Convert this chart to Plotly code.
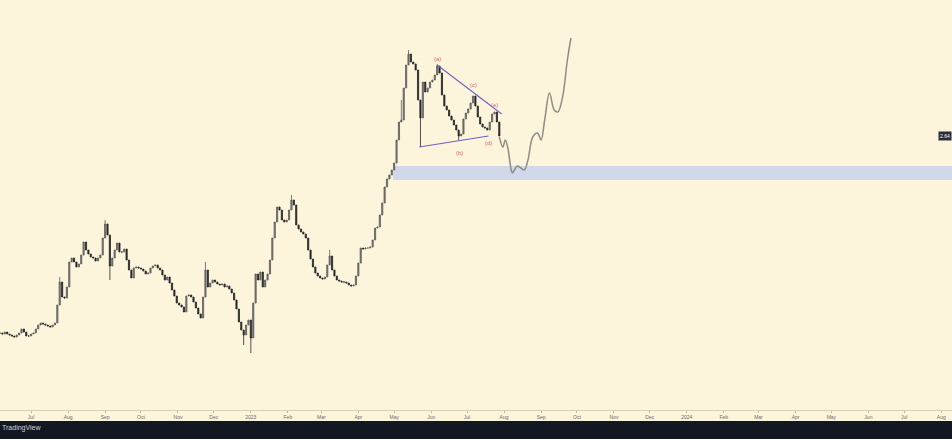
import datetime as dt
import plotly.graph_objects as go

# ---------------- data ----------------
start_date = dt.date(2022, 6, 5)
step_days = 2

closes = [
    0.67,0.66,0.68,0.66,0.65,0.64,0.63,0.65,0.67,0.71,
    0.68,0.64,0.64,0.66,0.67,0.71,0.75,0.77,0.76,0.75,
    0.74,0.73,0.75,0.77,0.95,1.18,1.03,1.02,1.13,1.38,
    1.42,1.38,1.33,1.36,1.45,1.58,1.50,1.46,1.43,1.42,
    1.39,1.42,1.45,1.62,1.76,1.65,1.34,1.42,1.50,1.57,
    1.48,1.48,1.51,1.40,1.30,1.22,1.32,1.33,1.32,1.31,
    1.29,1.26,1.27,1.32,1.34,1.35,1.32,1.30,1.25,1.20,
    1.23,1.17,1.10,1.04,0.97,0.95,0.93,0.88,1.04,1.05,
    1.03,0.98,0.92,0.86,0.82,1.03,1.30,1.13,1.17,1.20,
    1.18,1.16,1.15,1.16,1.13,1.14,1.11,1.07,1.00,0.91,
    0.78,0.70,0.65,0.75,0.80,0.62,0.97,1.26,1.20,1.28,
    1.13,1.20,1.26,1.40,1.62,1.78,1.93,1.90,1.80,1.78,
    1.80,1.90,2.00,1.95,1.75,1.71,1.68,1.66,1.62,1.50,
    1.41,1.33,1.27,1.24,1.22,1.21,1.23,1.35,1.44,1.30,
    1.24,1.20,1.19,1.18,1.18,1.17,1.15,1.14,1.15,1.24,
    1.37,1.52,1.51,1.52,1.52,1.53,1.60,1.72,1.73,1.85,
    1.97,2.13,2.21,2.25,2.30,2.37,2.60,2.78,2.80,3.12,
    3.35,3.46,3.38,3.36,3.30,3.00,2.82,3.18,3.08,3.12,
    3.18,3.20,3.25,3.34,3.27,3.05,2.94,2.90,2.84,2.80,
    2.75,2.70,2.64,2.66,2.81,2.87,2.91,2.97,3.04,2.94,
    2.83,2.76,2.73,2.72,2.70,2.78,2.86,2.88,2.78,2.64,
]

# notable wicks (candle index, price)
wick_highs = [(25, 1.23), (44, 1.80), (86, 1.38), (122, 2.05), (138, 1.50),
              (168, 3.00), (171, 3.50), (183, 3.36)]
wick_lows = [(46, 1.20), (102, 0.55), (105, 0.47), (176, 2.53), (192, 2.60)]

# projected path (grey curve)
proj_dates = ["2023-07-28", "2023-07-31", "2023-08-02", "2023-08-04", "2023-08-07",
              "2023-08-08", "2023-08-12", "2023-08-15", "2023-08-18", "2023-08-21",
              "2023-08-25", "2023-08-29", "2023-09-01", "2023-09-04", "2023-09-08",
              "2023-09-12", "2023-09-15", "2023-09-19", "2023-09-23", "2023-09-26"]
proj_prices = [2.63, 2.53, 2.60, 2.53, 2.30, 2.27, 2.34, 2.32, 2.30, 2.40,
               2.63, 2.67, 2.60, 2.80, 3.07, 2.90, 2.88, 3.03, 3.40, 3.62]

# triangle trendlines
upper_line_dates = ["2023-06-06", "2023-07-30"]
upper_line_prices = [3.35, 2.86]
lower_line_dates = ["2023-05-22", "2023-07-19"]
lower_line_prices = [2.53, 2.64]

# wave labels
wave_labels = ["(a)", "(b)", "(c)", "(d)", "(e)"]
wave_dates = ["2023-06-06", "2023-06-25", "2023-07-06", "2023-07-19", "2023-07-24"]
wave_prices = [3.41, 2.47, 3.15, 2.57, 2.95]

# support zone
zone_start = "2023-04-30"
zone_end = "2024-08-20"
zone_low = 2.20
zone_high = 2.34

last_price_label = "2.64"

tick_dates = ["2022-07-01", "2022-08-01", "2022-09-01", "2022-10-01", "2022-11-01",
              "2022-12-01", "2023-01-01", "2023-02-01", "2023-03-01", "2023-04-01",
              "2023-05-01", "2023-06-01", "2023-07-01", "2023-08-01", "2023-09-01",
              "2023-10-01", "2023-11-01", "2023-12-01", "2024-01-01", "2024-02-01",
              "2024-03-01", "2024-04-01", "2024-05-01", "2024-06-01", "2024-07-01",
              "2024-08-01"]
tick_labels = ["Jul", "Aug", "Sep", "Oct", "Nov", "Dec", "2023", "Feb", "Mar", "Apr",
               "May", "Jun", "Jul", "Aug", "Sep", "Oct", "Nov", "Dec", "2024", "Feb",
               "Mar", "Apr", "May", "Jun", "Jul", "Aug"]

# ---------------- build OHLC ----------------
dates = [start_date + dt.timedelta(days=step_days * i) for i in range(len(closes))]
opens = [closes[0]] + closes[:-1]
highs = [max(o, c) for o, c in zip(opens, closes)]
lows = [min(o, c) for o, c in zip(opens, closes)]
for i, v in wick_highs:
    highs[i] = max(highs[i], v)
for i, v in wick_lows:
    lows[i] = min(lows[i], v)

BG = "#fcf5dc"

fig = go.Figure()

fig.add_shape(type="rect", xref="x", yref="y", x0=zone_start, x1=zone_end,
              y0=zone_low, y1=zone_high, fillcolor="#d0d8ea", line=dict(width=0),
              layer="below")

fig.add_trace(go.Candlestick(
    x=dates, open=opens, high=highs, low=lows, close=closes,
    increasing=dict(line=dict(color="#5c5c5c", width=0.8), fillcolor="#7a7a7a"),
    decreasing=dict(line=dict(color="#262626", width=0.8), fillcolor="#262626"),
    whiskerwidth=0, hoverinfo="skip", showlegend=False,
))

fig.add_trace(go.Scatter(
    x=proj_dates, y=proj_prices, mode="lines",
    line=dict(color="#8e8c84", width=1.5, shape="spline", smoothing=1.0),
    hoverinfo="skip", showlegend=False,
))

for xs, ys in ((upper_line_dates, upper_line_prices), (lower_line_dates, lower_line_prices)):
    fig.add_trace(go.Scatter(x=xs, y=ys, mode="lines",
                             line=dict(color="#6c62c2", width=1.1),
                             hoverinfo="skip", showlegend=False))

for t, xd, yp in zip(wave_labels, wave_dates, wave_prices):
    fig.add_annotation(x=xd, y=yp, text=t, showarrow=False,
                       font=dict(size=6, color="#e0607e", family="Liberation Sans"))

# last price label at right edge
fig.add_annotation(xref="paper", x=1.0, y=closes[-1], text=last_price_label,
                   xanchor="right", showarrow=False, bgcolor="#2a2e39",
                   font=dict(size=5, color="#ffffff", family="Liberation Sans"),
                   borderpad=1)

# bottom dark bar with logo text
fig.add_shape(type="rect", xref="paper", yref="paper", x0=-0.02, x1=1.02,
              y0=-11 / 410, y1=-40 / 410, fillcolor="#131722", line=dict(width=0))
fig.add_annotation(xref="paper", yref="paper", x=0.0, y=-18 / 410,
                   text="TradingView", xanchor="left", yanchor="middle",
                   showarrow=False,
                   font=dict(size=7, color="#d1d4dc", family="Liberation Sans"))

fig.update_layout(
    width=952, height=439,
    margin=dict(l=0, r=0, t=0, b=29),
    paper_bgcolor=BG, plot_bgcolor=BG,
    showlegend=False,
    xaxis=dict(
        range=["2022-06-05", "2024-08-10"], type="date",
        rangeslider=dict(visible=False),
        tickvals=tick_dates, ticktext=tick_labels,
        tickfont=dict(size=5, color="#6b6b6b", family="Liberation Sans"),
        ticks="outside", ticklen=2, tickcolor="#bdb8a4",
        showline=True, linecolor="#d6d0b8", linewidth=1,
        showgrid=False, zeroline=False, fixedrange=True,
    ),
    yaxis=dict(range=[-0.10, 4.00], visible=False, showgrid=False,
               zeroline=False, fixedrange=True),
)

fig.write_html("out.html", config={"displayModeBar": False},
               post_script="document.body.style.margin='0';document.body.style.overflow='hidden';")
